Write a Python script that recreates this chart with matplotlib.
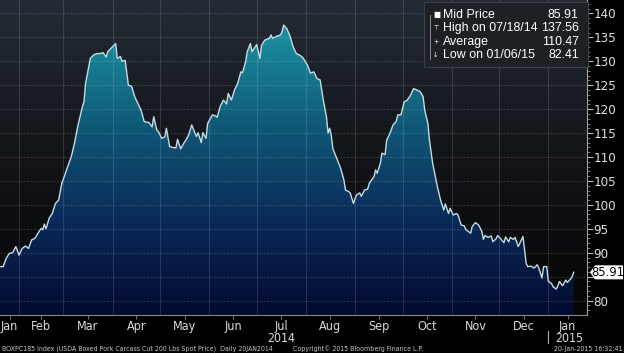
import numpy as np
import matplotlib
matplotlib.use("Agg")
import matplotlib.pyplot as plt
from matplotlib.colors import LinearSegmentedColormap
from matplotlib.patches import Rectangle, Polygon
from matplotlib.lines import Line2D
import matplotlib.transforms as mtransforms

# USDA boxed pork carcass cutout, daily, days counted from 20 Jan 2014
start = np.datetime64('2014-01-20')
days = [0, 2, 4, 6, 8, 10, 12, 14, 16, 18, 20, 22, 24, 26, 27, 28, 29, 31, 33, 35,
        37, 39, 42, 45, 47, 49, 52, 53, 54, 56, 57, 59, 61, 63, 65, 67, 68, 70, 73, 74,
        76, 77, 79, 81, 83, 85, 87, 89, 91, 94, 96, 97, 99, 100, 102, 104, 105, 107, 109, 111,
        112, 114, 116, 118, 119, 121, 123, 124, 125, 127, 128, 130, 131, 134, 136, 137, 139, 141, 143, 144,
        146, 148, 150, 152, 153, 155, 156, 158, 159, 161, 162, 164, 165, 167, 170, 171, 172, 175, 177, 178,
        179, 181, 183, 185, 187, 189, 191, 194, 196, 198, 200, 202, 204, 206, 207, 208, 209, 210, 212, 215,
        217, 218, 220, 221, 223, 224, 225, 227, 228, 230, 232, 233, 236, 237, 238, 240, 241, 243, 244, 246,
        248, 250, 251, 253, 255, 257, 259, 261, 263, 265, 267, 268, 270, 271, 273, 276, 278, 280, 281, 283,
        284, 286, 288, 289, 291, 293, 294, 297, 298, 300, 302, 304, 305, 306, 308, 310, 311, 313, 314, 316,
        318, 319, 321, 322, 324, 325, 327, 329, 330, 332, 333, 335, 337, 339, 340, 342, 343, 345, 346, 348,
        349, 351, 352, 353, 355, 357, 358, 360, 361, 362]
price = [87.1, 87.1, 88.9, 89.9, 90.0, 91.3, 89.5, 90.9, 91.4, 90.9, 92.7, 93.0, 94.1, 95.1, 94.8, 96.0, 95.0, 97.2, 98.2, 100.3,
         101.0, 104.5, 107.3, 110.1, 112.9, 116.3, 120.5, 121.5, 125.4, 128.9, 130.6, 131.3, 131.6, 131.6, 131.8, 130.9, 132.0, 132.7, 133.7, 130.6,
         131.0, 130.0, 130.2, 125.0, 124.8, 122.6, 121.2, 119.8, 117.4, 117.2, 116.3, 118.4, 115.6, 115.3, 113.9, 114.2, 116.0, 112.2, 112.0, 111.9,
         113.7, 111.7, 112.9, 113.9, 114.6, 116.7, 115.0, 114.3, 115.1, 113.0, 115.1, 113.9, 117.0, 118.8, 118.6, 118.3, 120.6, 121.9, 121.1, 123.3,
         121.9, 124.0, 125.4, 127.8, 127.6, 129.9, 132.0, 133.7, 132.0, 133.0, 133.5, 130.6, 133.3, 134.4, 134.8, 135.5, 134.8, 135.3, 135.5, 136.2,
         137.56, 136.8, 135.3, 133.0, 131.6, 131.3, 130.8, 129.2, 127.5, 127.8, 126.4, 126.1, 121.9, 118.4, 115.0, 116.0, 114.6, 111.8, 110.1, 107.6,
         105.2, 103.1, 102.8, 102.5, 100.3, 101.3, 102.1, 102.5, 101.8, 103.1, 103.3, 104.5, 105.9, 107.3, 106.6, 108.7, 110.8, 110.5, 113.5, 114.9,
         116.7, 117.4, 118.8, 118.8, 121.5, 121.9, 122.9, 124.3, 124.0, 123.7, 122.6, 119.8, 117.0, 113.5, 108.7, 103.8, 101.0, 98.9, 100.2, 98.2,
         99.3, 97.9, 98.2, 97.9, 95.8, 95.6, 94.8, 94.1, 95.5, 96.3, 95.8, 94.5, 92.8, 93.6, 93.2, 93.5, 92.3, 92.9, 93.6, 92.9,
         92.1, 93.3, 92.3, 93.2, 92.8, 93.2, 91.3, 92.7, 93.4, 87.8, 87.1, 87.2, 86.8, 87.5, 86.8, 84.7, 87.1, 87.1, 84.0, 83.6,
         82.9, 82.41, 83.1, 84.0, 83.1, 84.3, 83.8, 84.5, 85.0, 85.91]

legend_rows = ["Mid Price", "High on 07/18/14", "Average", "Low on 01/06/15"]
legend_vals = ["85.91", "137.56", "110.47", "82.41"]
last_label = "85.91"

month_names = ["Jan", "Feb", "Mar", "Apr", "May", "Jun", "Jul", "Aug", "Sep", "Oct", "Nov", "Dec", "Jan"]
month_starts = np.arange(np.datetime64('2014-01'), np.datetime64('2015-03'), np.timedelta64(1, 'M')).astype('datetime64[D]')
footer_left = "BOXPC185 Index (USDA Boxed Pork Carcass Cut 200 Lbs Spot Price)  Daily 20JAN2014"
footer_mid = "Copyright\u00a9 2015 Bloomberg Finance L.P."
footer_right = "20-Jan-2015 16:32:41"

plt.rcParams['font.family'] = ['DejaVu Sans']
plt.rcParams['font.stretch'] = 'condensed'
legend_font = ['Liberation Sans', 'DejaVu Sans']
W, H = 624, 353

def px(x, y):
    return x / W, 1 - y / H

fig = plt.figure(figsize=(W / 100, H / 100), dpi=100, facecolor='black')
ax = fig.add_axes([0, 1 - 315 / H, 587 / W, 315 / H])
ax.set_facecolor('black')

xmin, xmax = 0, 370.4
ymin, ymax = 77.0, 142.8
ax.set_xlim(xmin, xmax)
ax.set_ylim(ymin, ymax)

# background gradient behind the curve
bg = LinearSegmentedColormap.from_list('bg', ['#050506', '#121418', '#232c35'])
grad = np.linspace(0, 1, 256).reshape(-1, 1)
ax.imshow(grad, extent=[xmin, xmax, ymin, ymax], origin='lower', aspect='auto',
          cmap=bg, zorder=0, interpolation='bicubic')

# area fill gradient clipped to the curve
fillmap = LinearSegmentedColormap.from_list(
    'fill', [(0, '#030a30'), (0.3, '#0a2a58'), (0.6, '#0f5878'), (0.85, '#1a8598'), (1, '#22a0b0')])
poly = ax.fill_between(days, price, ymin, facecolor='none', edgecolor='none')
im = ax.imshow(grad, extent=[xmin, xmax, ymin, ymax], origin='lower', aspect='auto',
               cmap=fillmap, zorder=1, interpolation='bicubic')
im.set_clip_path(poly.get_paths()[0], transform=ax.transData)

ax.plot(days, price, color='#c4dbe2', lw=1.0, zorder=3)

# grid
day_ticks = (month_starts - start).astype(int)
major_x = day_ticks[(day_ticks > 0) & (day_ticks < xmax)]
for d in major_x:
    ax.axvline(d, color='white', alpha=0.13, lw=0.8, zorder=2)
for v in range(80, 141, 5):
    ax.axhline(v, color='white', alpha=0.16, lw=0.8, ls=(0, (1.5, 1.5)), zorder=2)

# x labels at mid month
edges = np.clip(day_ticks, xmin, xmax)
mids = (edges[:-1] + edges[1:]) / 2
mids = mids[:len(month_names)]
ax.set_xticks(major_x)
ax.set_xticklabels([])
ax.tick_params(axis='x', which='major', length=0)
ax.set_xticks(mids, minor=True)
ax.set_xticklabels(month_names, minor=True, color='#dcdcdc', fontsize=9)
ax.tick_params(axis='x', which='minor', length=3, color='#888888', pad=0.5)

ax.yaxis.tick_right()
yt = list(range(80, 141, 5))
ax.set_yticks(yt)
# the 85 label sits under the last-price tag, as in the source chart
ax.set_yticklabels(['' if v == 85 else str(v) for v in yt])
ax.set_yticks(range(78, 143), minor=True)
ax.tick_params(axis='y', which='major', length=4, color='#bbbbbb', labelcolor='#e0e0e0',
               labelsize=9.5, pad=0.8)
ax.tick_params(axis='y', which='minor', length=2, color='#888888')

for s in ['top', 'left']:
    ax.spines[s].set_visible(False)
ax.spines['right'].set_color('#a0a0a0')
ax.spines['bottom'].set_color('#8a8a8a')

# year labels
trans = mtransforms.blended_transform_factory(ax.transData, fig.transFigure)
ax.text(mids[6], px(0, 338)[1], "2014", transform=trans, ha='center', va='center',
        color='#dcdcdc', fontsize=8.8)
ax.text(mids[12] + 1, px(0, 338)[1], "2015", transform=trans, ha='center', va='center',
        color='#dcdcdc', fontsize=8.8)
ax.add_line(Line2D([day_ticks[12], day_ticks[12]], [px(0, 331)[1], px(0, 343)[1]],
                   transform=trans, color='#aaaaaa', lw=0.8, clip_on=False))

# last price tag
yd = ax.transData.transform((xmax, float(price[-1])))[1]
x0 = ax.transAxes.transform((1, 0))[0] + 3
tag = Polygon([(x0, yd), (x0 + 5, yd + 7), (x0 + 33, yd + 7), (x0 + 33, yd - 7), (x0 + 5, yd - 7)],
              closed=True, transform=None, facecolor='white', edgecolor='none', zorder=10)
fig.patches.append(tag)
fig.text((x0 + 18) / W, yd / H, last_label, ha='center', va='center', color='black',
         fontsize=9.3, zorder=11)

# legend box
lx, ly = px(424, 67)
fig.patches.append(Rectangle((lx, ly), (588 - 424) / W, 65 / H, transform=fig.transFigure,
                             facecolor='#1d2125', edgecolor='#3a4045', lw=0.8, zorder=8))
row_y = [15, 28, 42, 55]
symbols = ["\u25a0", "\u22a4", "+", "\u2193"]
for i in range(4):
    fx, fy = px(443, row_y[i])
    fig.text(fx, fy, legend_rows[i], color='white', fontsize=8.9, va='center', ha='left',
             family=legend_font, stretch='normal', zorder=9)
    fig.text(px(579, 0)[0], fy, legend_vals[i], color='white', fontsize=8.9, va='center',
             ha='right', family=legend_font, stretch='normal', zorder=9)
    fig.text(px(433, 0)[0], fy, symbols[i], color='white',
             fontsize=6 if i == 0 else 5, va='center', ha='left', zorder=9)
fig.add_artist(Line2D([px(430, 0)[0]] * 2, [px(0, 15)[1], px(0, 59)[1]],
                      transform=fig.transFigure, color='#888888', lw=0.7, zorder=9))

# footer
fy = px(0, 348.5)[1]
fig.text(px(2, 0)[0], fy, footer_left, color='#c8c8c8', fontsize=5.0, va='center')
fig.text(px(293, 0)[0], fy, footer_mid, color='#c8c8c8', fontsize=5.0, va='center')
fig.text(px(622, 0)[0], fy, footer_right, color='#c8c8c8', fontsize=5.0,
         va='center', ha='right')

fig.savefig('out.png', dpi=100, facecolor='black')
